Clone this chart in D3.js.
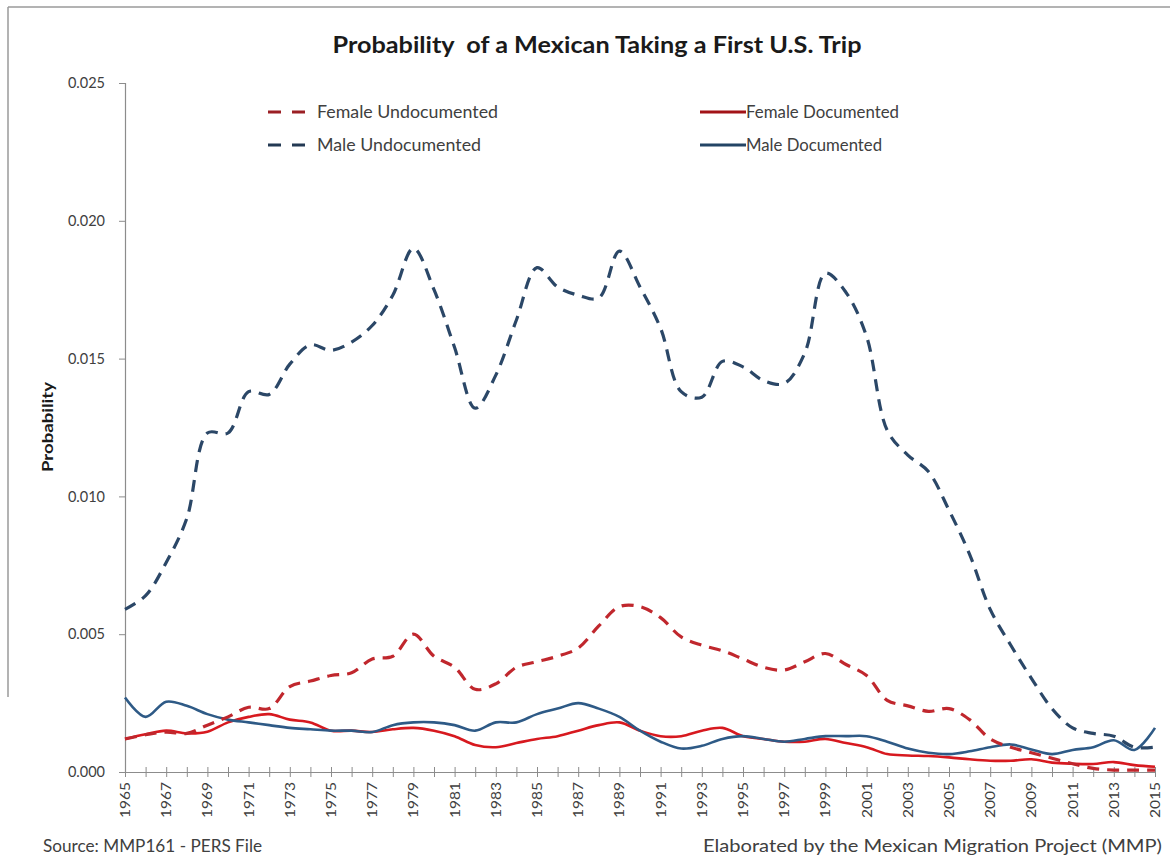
<!DOCTYPE html>
<meta charset="utf-8">
<body style="margin:0;background:#fff">
<script src="https://d3js.org/d3.v7.min.js"></script>
<div id="chart"></div>
<script>
// values (probability)
var years = d3.range(1965, 2016);
var maleUndoc = [0.0059, 0.0064, 0.0076, 0.0092, 0.0123, 0.0123, 0.0138, 0.0137, 0.0148, 0.0155,
    0.0153, 0.0156, 0.0162, 0.0173, 0.0190, 0.0175, 0.0154, 0.0132, 0.0144, 0.0164,
    0.0183, 0.0176, 0.0173, 0.0172, 0.0189, 0.0176, 0.0161, 0.0138, 0.0136, 0.0149,
    0.0147, 0.0142, 0.0141, 0.0152, 0.0181, 0.0174, 0.0158, 0.0124, 0.0115, 0.0109,
    0.0095, 0.0079, 0.0059, 0.0046, 0.0034, 0.0023, 0.0016, 0.0014, 0.0013, 0.0009, 0.0009];
var femaleUndoc = [0.0012, 0.00135, 0.00145, 0.0014, 0.0017, 0.0020, 0.00235, 0.0023, 0.0031, 0.0033,
    0.0035, 0.0036, 0.0041, 0.0042, 0.0050, 0.0042, 0.0038, 0.0030, 0.0032, 0.0038,
    0.0040, 0.0042, 0.0045, 0.0053, 0.0060, 0.0060, 0.0056, 0.0049, 0.0046, 0.0044,
    0.0041, 0.0038, 0.0037, 0.0040, 0.0043, 0.0039, 0.0035, 0.0026, 0.0024, 0.0022,
    0.0023, 0.0019, 0.0012, 0.0009, 0.0007, 0.0005, 0.0003, 0.00013, 0.00007, 0.00007, 0.00007];
var maleDoc = [0.0027, 0.0020, 0.00255, 0.0024, 0.0021, 0.0019, 0.0018, 0.0017, 0.0016, 0.00155,
    0.0015, 0.0015, 0.00145, 0.0017, 0.0018, 0.0018, 0.0017, 0.0015, 0.0018, 0.0018,
    0.0021, 0.0023, 0.0025, 0.0023, 0.0020, 0.0015, 0.0011, 0.00085, 0.00095, 0.0012,
    0.0013, 0.0012, 0.0011, 0.0012, 0.0013, 0.0013, 0.0013, 0.0011, 0.00085, 0.0007,
    0.00065, 0.00075, 0.0009, 0.001, 0.00082, 0.00065, 0.0008, 0.0009, 0.00115, 0.0008, 0.0016];
var femaleDoc = [0.0012, 0.00137, 0.0015, 0.0014, 0.00146, 0.0018, 0.0020, 0.0021, 0.0019, 0.0018,
    0.0015, 0.0015, 0.00145, 0.00155, 0.0016, 0.0015, 0.0013, 0.00098, 0.0009, 0.00105,
    0.0012, 0.0013, 0.0015, 0.0017, 0.0018, 0.0015, 0.0013, 0.0013, 0.0015, 0.0016,
    0.0013, 0.0012, 0.0011, 0.0011, 0.0012, 0.00105, 0.0009, 0.00065, 0.0006, 0.00058,
    0.00053, 0.00046, 0.00041, 0.00041, 0.00046, 0.00034, 0.0003, 0.00029, 0.00036, 0.00025, 0.00019];
var yTicks = [0, 0.005, 0.010, 0.015, 0.020, 0.025];
var xLabelYears = years.filter(function (d) { return d % 2 === 1; });

var series = [
    { name: "Female Undocumented", values: femaleUndoc, color: "#c0272d", dash: "12,8", width: 3.2 },
    { name: "Male Undocumented", values: maleUndoc, color: "#2b4767", dash: "12,8", width: 3.2 },
    { name: "Female Documented", values: femaleDoc, color: "#d7191f", dash: null, width: 2.6 },
    { name: "Male Documented", values: maleDoc, color: "#2e5a86", dash: null, width: 2.6 }
];

var W = 1170, H = 856;
var plotLeft = 125, plotRight = 1155, plotTop = 83, plotBottom = 772;
var font = "Lato, 'Open Sans', sans-serif";

var svg = d3.select("#chart").append("svg")
    .attr("width", W).attr("height", H)
    .style("font-family", font);

// frame
svg.append("line").attr("x1", 8).attr("x2", W).attr("y1", 7).attr("y2", 7)
    .attr("stroke", "#9a9a9a").attr("stroke-width", 1.5);
svg.append("line").attr("x1", 8).attr("x2", 8).attr("y1", 7).attr("y2", 697)
    .attr("stroke", "#9a9a9a").attr("stroke-width", 1.5);

var x = d3.scaleLinear().domain([1965, 2015]).range([plotLeft, plotRight]);
var y = d3.scaleLinear().domain([0, 0.025]).range([plotBottom, plotTop]);

// y axis
var yAxis = svg.append("g")
    .attr("transform", "translate(" + plotLeft + ",0)")
    .call(d3.axisLeft(y).tickValues(yTicks).tickFormat(d3.format(".3f")).tickSize(6).tickPadding(14));
yAxis.select(".domain").attr("stroke", "#8c8c8c").attr("stroke-width", 1.2);
yAxis.selectAll(".tick line").attr("stroke", "#8c8c8c");
yAxis.selectAll("text").style("font-size", "14.5px").style("fill", "#404040").style("font-family", font);

// x axis, ticks every year, crossing the axis line
var xAxis = svg.append("g")
    .attr("transform", "translate(0," + plotBottom + ")")
    .call(d3.axisBottom(x).tickValues(years).tickSize(5).tickSizeOuter(0).tickFormat(""));
xAxis.select(".domain").attr("stroke", "#8c8c8c").attr("stroke-width", 1.2);
xAxis.selectAll(".tick line").attr("stroke", "#8c8c8c").attr("y1", -5);

svg.append("g").selectAll("text")
    .data(xLabelYears)
    .join("text")
    .attr("transform", function (d) { return "translate(" + (x(d) + 5) + "," + (plotBottom + 10) + ") rotate(-90)"; })
    .attr("text-anchor", "end")
    .attr("textLength", 36)
    .attr("lengthAdjust", "spacingAndGlyphs")
    .style("font-size", "14px")
    .style("fill", "#404040")
    .text(function (d) { return d; });

// lines
var line = d3.line()
    .x(function (d, i) { return x(years[i]); })
    .y(function (d) { return y(d); })
    .curve(d3.curveCatmullRom.alpha(0.5));

var drawOrder = [series[2], series[3], series[0], series[1]];
svg.append("g").selectAll("path")
    .data(drawOrder)
    .join("path")
    .attr("d", function (s) { return line(s.values); })
    .attr("fill", "none")
    .attr("stroke", function (s) { return s.color; })
    .attr("stroke-width", function (s) { return s.width; })
    .attr("stroke-dasharray", function (s) { return s.dash; })
    .attr("stroke-linejoin", "round");

// legend
var legendPos = [
    { s: series[0], x: 268, y: 112, w: 181 },
    { s: series[1], x: 268, y: 145, w: 164 },
    { s: series[2], x: 700, y: 112, w: 153 },
    { s: series[3], x: 700, y: 145, w: 136 }
];
var lg = svg.append("g").selectAll("g").data(legendPos).join("g")
    .attr("transform", function (d) { return "translate(" + d.x + "," + d.y + ")"; });
lg.append("line")
    .attr("x1", 0).attr("x2", function (d) { return d.s.dash ? 43 : 46; })
    .attr("stroke", function (d) { return d.s.dash ? d3.color(d.s.color).darker(0.6) : d3.color(d.s.color).darker(0.8); })
    .attr("stroke-width", 3.2)
    .attr("stroke-dasharray", function (d) { return d.s.dash ? "13,11" : null; });
lg.append("text")
    .attr("x", function (d) { return d.s.dash ? 49 : 46; })
    .attr("dy", "0.35em")
    .attr("textLength", function (d) { return d.w; })
    .attr("lengthAdjust", "spacingAndGlyphs")
    .style("font-size", "16.5px")
    .style("fill", "#404040")
    .text(function (d) { return d.s.name; });

// title
svg.append("text")
    .attr("x", 597).attr("y", 53)
    .attr("text-anchor", "middle")
    .attr("textLength", 529)
    .attr("lengthAdjust", "spacingAndGlyphs")
    .style("white-space", "pre")
    .style("font-size", "23px").style("font-weight", "bold").style("fill", "#1a1a1a")
    .text("Probability  of a Mexican Taking a First U.S. Trip");

// y label
svg.append("text")
    .attr("transform", "translate(53,427) rotate(-90)")
    .attr("text-anchor", "middle")
    .attr("textLength", 90)
    .attr("lengthAdjust", "spacingAndGlyphs")
    .style("font-size", "16px").style("font-weight", "bold").style("fill", "#1a1a1a")
    .text("Probability");

// footer
svg.append("text")
    .attr("x", 43).attr("y", 852)
    .attr("textLength", 219)
    .attr("lengthAdjust", "spacingAndGlyphs")
    .style("font-size", "16.5px").style("fill", "#404040")
    .text("Source: MMP161 - PERS File");
svg.append("text")
    .attr("x", 1162).attr("y", 852)
    .attr("text-anchor", "end")
    .attr("textLength", 459)
    .attr("lengthAdjust", "spacingAndGlyphs")
    .style("font-size", "16.5px").style("fill", "#404040")
    .text("Elaborated by the Mexican Migration Project (MMP)");
</script>
</body>
